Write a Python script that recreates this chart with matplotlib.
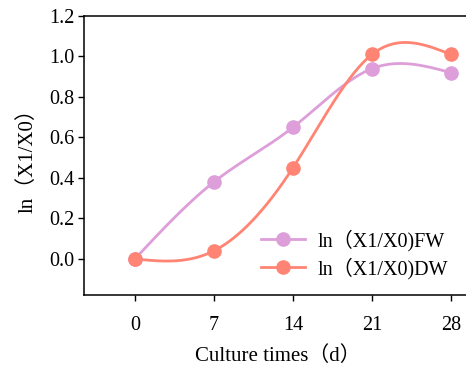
import numpy as np
import matplotlib
matplotlib.use("Agg")
import matplotlib.pyplot as plt

days = [0, 7, 14, 21, 28]
fw = [0.0, 0.38, 0.65, 0.94, 0.92]
dw = [0.0, 0.04, 0.45, 1.01, 1.01]
y_ticks = [0.0, 0.2, 0.4, 0.6, 0.8, 1.0, 1.2]

FAM = ['Liberation Serif', 'Noto Sans CJK SC']
plt.rcParams['font.family'] = FAM


def natural_spline(x, y, n=300):
    x = np.asarray(x, float); y = np.asarray(y, float)
    m = len(x); h = np.diff(x)
    A = np.zeros((m, m)); b = np.zeros(m)
    A[0, 0] = 1; A[-1, -1] = 1
    for i in range(1, m - 1):
        A[i, i - 1] = h[i - 1]; A[i, i] = 2 * (h[i - 1] + h[i]); A[i, i + 1] = h[i]
        b[i] = 6 * ((y[i + 1] - y[i]) / h[i] - (y[i] - y[i - 1]) / h[i - 1])
    M = np.linalg.solve(A, b)
    xs = np.linspace(x[0], x[-1], n); ys = np.empty_like(xs)
    for k, t in enumerate(xs):
        i = min(np.searchsorted(x, t, side='right') - 1, m - 2)
        a = x[i + 1] - t; c = t - x[i]
        ys[k] = (M[i] * a**3 + M[i + 1] * c**3) / (6 * h[i]) + \
            (y[i] / h[i] - M[i] * h[i] / 6) * a + (y[i + 1] / h[i] - M[i + 1] * h[i] / 6) * c
    return xs, ys


fig = plt.figure(figsize=(4.66, 3.69), dpi=100)
ax = fig.add_axes([84 / 466, 74 / 369, (472 - 84) / 466, (295 - 16) / 369])

c_fw = '#DD9EDA'
c_dw = '#FF8474'
for y, c, lab in [(fw, c_fw, 'ln（X1/X0)FW'), (dw, c_dw, 'ln（X1/X0)DW')]:
    xs, ys = natural_spline(days, y)
    ax.plot(xs, ys, color=c, lw=2.0, zorder=2)
    ax.plot(days, y, 'o', color=c, ms=9.5, zorder=3)
    ax.plot([], [], '-o', color=c, lw=2.0, ms=9.5, label=lab)

ax.set_xlim(-4.5, 28 + (472 - 451) / (79 / 7))
ax.set_ylim(-0.178, 1.2)
ax.set_xticks(days)
ax.set_xticklabels([str(d) for d in days])
ax.set_yticks(y_ticks)
ax.set_yticklabels([f'{v:.1f}' for v in y_ticks])
ax.tick_params(direction='out', length=4, width=1, labelsize=14.5, pad=3)
ax.tick_params(axis='x', pad=11)
for s in ax.spines.values():
    s.set_linewidth(1.1)

ax.set_ylabel('ln（X1/X0）', fontsize=15, labelpad=8)
ax.set_xlabel('Culture times（d）', fontsize=15, labelpad=8)

leg = ax.legend(loc='lower right', bbox_to_anchor=(0.958, 0.028), frameon=False,
                fontsize=14.5, handlelength=2.2, handletextpad=0.6, labelspacing=0.3,
                borderaxespad=0)

fig.savefig('out.png', dpi=100)
